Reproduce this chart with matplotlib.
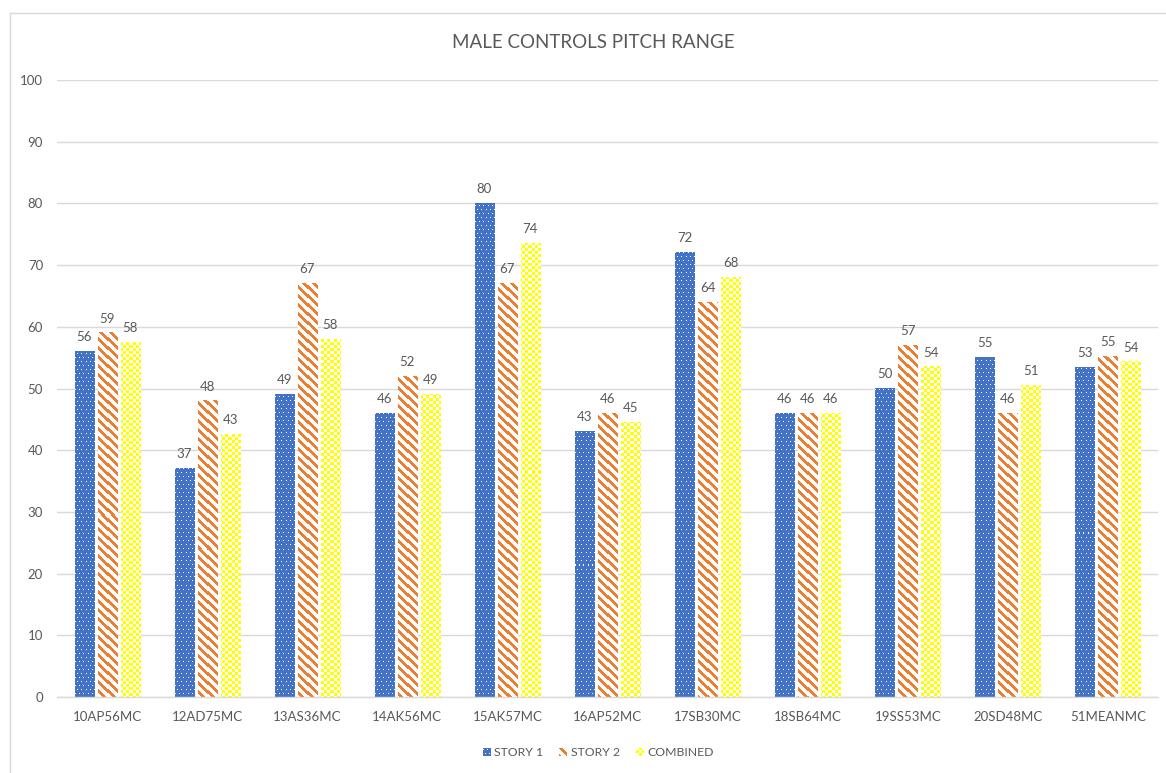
import numpy as np
import matplotlib
matplotlib.use("Agg")
import matplotlib.pyplot as plt

# Pitch range per speaker, two stories and their combined mean
subjects = ["10AP56MC", "12AD75MC", "13AS36MC", "14AK56MC", "15AK57MC", "16AP52MC",
            "17SB30MC", "18SB64MC", "19SS53MC", "20SD48MC", "51MEANMC"]
story1 = [56, 37, 49, 46, 80, 43, 72, 46, 50, 55, 53.4]
story2 = [59, 48, 67, 52, 67, 46, 64, 46, 57, 46, 55.2]
combined = [57.5, 42.5, 58, 49, 73.5, 44.5, 68, 46, 53.5, 50.5, 54.3]
series_names = ["STORY 1", "STORY 2", "COMBINED"]
y_ticks = list(range(0, 101, 10))

FONT = "Lato"
TXT = "#595959"
GRID = "#D9D9D9"

W, H, DPI = 1166, 773, 100
fig = plt.figure(figsize=(W / DPI, H / DPI), dpi=DPI)
fig.patch.set_facecolor("white")

# outer chart frame (top and left edges visible)
fig.add_artist(plt.Line2D([10 / W, 10 / W], [0, 1 - 13 / H], transform=fig.transFigure,
                          color=GRID, lw=1))
fig.add_artist(plt.Line2D([10 / W, 1], [1 - 13 / H, 1 - 13 / H], transform=fig.transFigure,
                          color=GRID, lw=1))

ax = fig.add_axes([57 / W, 1 - 697 / H, (1158 - 57) / W, (697 - 80) / H])
ax.set_xlim(-0.5, len(subjects) - 0.5)
ax.set_ylim(0, 100)
ax.set_autoscale_on(False)


def blue_dots(X, Y):
    base = np.array([0x44, 0x72, 0xC4]) / 255
    dot = np.array([1.0, 1.0, 1.0])
    mask = ((Y % 4) == 1) & (((X + ((Y // 4) % 2) * 2) % 4) == 1)
    return np.where(mask[..., None], dot, base)


def orange_stripes(X, Y):
    base = np.array([1.0, 1.0, 1.0])
    stripe = np.array([0xED, 0x7D, 0x31]) / 255
    mask = ((X - Y) % 9) < 4
    return np.where(mask[..., None], stripe, base)


def yellow_checker(X, Y):
    base = np.array([1.0, 1.0, 1.0])
    yel = np.array([1.0, 1.0, 0.0])
    mask = ((X // 3 + Y // 3) % 2) == 0
    return np.where(mask[..., None], yel, base)


patterns = [blue_dots, orange_stripes, yellow_checker]
series = [story1, story2, combined]
offsets = [-0.23, 0.0, 0.23]
bar_w = 0.19
x = np.arange(len(subjects))


def texture(func, c0, c1, r0, r1):
    X, Y = np.meshgrid(np.arange(c0, c1), np.arange(r0, r1))
    return func(X, Y)


def label_of(v):
    return str(int(np.floor(v + 0.5)))


for vals, func, off in zip(series, patterns, offsets):
    bars = ax.bar(x + off, vals, width=bar_w, color="none", linewidth=0, zorder=2)
    for rect, v in zip(bars, vals):
        x0, x1 = rect.get_x(), rect.get_x() + rect.get_width()
        p0 = ax.transData.transform((x0, 0))
        p1 = ax.transData.transform((x1, v))
        c0, c1 = int(round(p0[0])), int(round(p1[0]))
        r0, r1 = int(round(H - p1[1])), int(round(H - p0[1]))
        img = texture(func, c0, c1, r0, r1)
        ax.imshow(img, extent=(x0, x1, 0, v), origin="upper", interpolation="nearest",
                  aspect="auto", zorder=2)
        ax.annotate(label_of(v), (rect.get_x() + rect.get_width() / 2, v),
                    xytext=(0, 6), textcoords="offset points", ha="center", va="bottom",
                    fontsize=9.5, color=TXT, family=FONT)

ax.set_xlim(-0.5, len(subjects) - 0.5)
ax.set_ylim(0, 100)

ax.set_yticks(y_ticks)
ax.set_xticks(x)
ax.set_xticklabels(subjects)
ax.tick_params(axis="both", length=0, colors=TXT, labelsize=9.5)
ax.tick_params(axis="y", pad=10)
ax.tick_params(axis="x", pad=10)
for lab in ax.get_xticklabels() + ax.get_yticklabels():
    lab.set_family(FONT)
ax.grid(axis="y", color=GRID, lw=1, zorder=0)
ax.set_axisbelow(True)
for s in ["top", "right", "left"]:
    ax.spines[s].set_visible(False)
ax.spines["bottom"].set_color(GRID)
ax.spines["bottom"].set_linewidth(1)

fig.text(593 / W, 1 - 43 / H, "MALE CONTROLS PITCH RANGE", ha="center", va="center",
         fontsize=13.5, color=TXT, family=FONT)

# legend: small pattern swatches followed by names
legend_pos = [(483, 494), (559, 571), (636, 647)]
for name, func, (mx, tx) in zip(series_names, patterns, legend_pos):
    sw = texture(func, mx, mx + 8, 748, 756)
    fig.figimage(sw, xo=mx, yo=H - 756, origin="upper", zorder=5)
    fig.text(tx / W, 1 - 752 / H, name, ha="left", va="center", fontsize=8.8,
             color=TXT, family=FONT)

fig.savefig("out.png", dpi=DPI, facecolor="white")
